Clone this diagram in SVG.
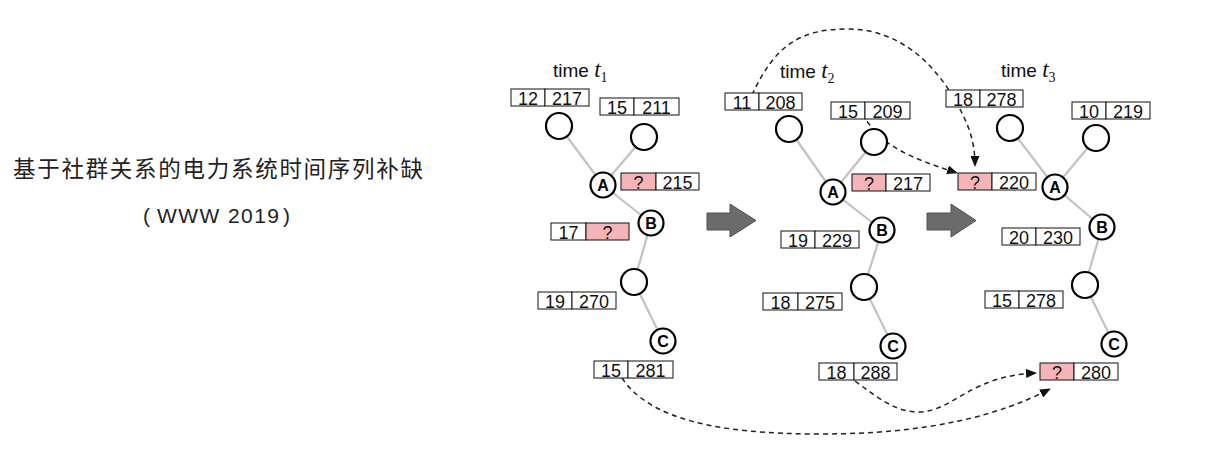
<svg xmlns="http://www.w3.org/2000/svg" width="1212" height="454" viewBox="0 0 1212 454">
<style>
.bg{fill:#fff}
.cell{fill:#fff;stroke:#111;stroke-width:1}
.pink{fill:#f5b5b8;stroke:#111;stroke-width:1}
.num{font-family:"Liberation Sans",Arial,sans-serif;font-size:18px;fill:#111;text-anchor:middle}
.circ{fill:#fff;stroke:#000;stroke-width:2.2}
.lbl{font-family:"Liberation Sans",Arial,sans-serif;font-size:16px;font-weight:bold;fill:#000;text-anchor:middle}
.edge{stroke:#c2c2c2;stroke-width:2.2;fill:none}
.dash{stroke:#222;stroke-width:1.5;fill:none;stroke-dasharray:5 4;marker-end:url(#ah)}
.blk{fill:#6b6b6b;stroke:#505050;stroke-width:1}
.time{font-family:"Liberation Sans",Arial,sans-serif;font-size:19px;fill:#111}
.tit{font-family:"Liberation Serif","Times New Roman",serif;font-style:italic;font-size:23px}
.sub{font-family:"Liberation Serif","Times New Roman",serif;font-size:14px}
.title{font-family:"Noto Sans CJK SC","Noto Sans",sans-serif;font-size:22.5px;fill:#222;text-anchor:middle}
.title2{font-family:"Liberation Sans",Arial,sans-serif;font-size:21px;fill:#222}
</style>
<defs>
<marker id="ah" markerUnits="userSpaceOnUse" markerWidth="11" markerHeight="9" refX="10" refY="4.5" orient="auto">
<path d="M0,0 L11,4.5 L0,9 z" fill="#111"/>
</marker>
</defs>
<rect class="bg" x="0" y="0" width="1212" height="454"/>

<g id="title">
<text class="title" x="218" y="177" textLength="410" lengthAdjust="spacing">基于社群关系的电力系统时间序列补缺</text>
<text class="title2" x="143" y="223">(<tspan x="157" textLength="122" lengthAdjust="spacing">WWW 2019</tspan><tspan x="283">)</tspan></text>
</g>

<g id="time-labels">
<text class="time" x="553" y="77">time <tspan class="tit">t</tspan><tspan class="sub" dy="5">1</tspan></text>
<text class="time" x="780" y="78">time <tspan class="tit">t</tspan><tspan class="sub" dy="5">2</tspan></text>
<text class="time" x="1001" y="77">time <tspan class="tit">t</tspan><tspan class="sub" dy="5">3</tspan></text>
</g>

<g id="connectors">
<!-- panel 1 edges -->
<line class="edge" x1="559" y1="126" x2="603" y2="185"/>
<line class="edge" x1="644" y1="137" x2="603" y2="185"/>
<line class="edge" x1="603" y1="185" x2="651" y2="223"/>
<line class="edge" x1="651" y1="223" x2="634" y2="282"/>
<line class="edge" x1="634" y1="282" x2="663" y2="341"/>
<!-- panel 2 edges -->
<line class="edge" x1="789" y1="129" x2="833" y2="192"/>
<line class="edge" x1="874" y1="142" x2="833" y2="192"/>
<line class="edge" x1="833" y1="192" x2="882" y2="230"/>
<line class="edge" x1="882" y1="230" x2="864" y2="287"/>
<line class="edge" x1="864" y1="287" x2="893" y2="346"/>
<!-- panel 3 edges -->
<line class="edge" x1="1010" y1="128" x2="1055" y2="187"/>
<line class="edge" x1="1096" y1="138" x2="1055" y2="187"/>
<line class="edge" x1="1055" y1="187" x2="1102" y2="227"/>
<line class="edge" x1="1102" y1="227" x2="1085" y2="285"/>
<line class="edge" x1="1085" y1="285" x2="1114" y2="344"/>
<!-- dashed arrows -->
<path class="dash" d="M752 95 C775 45 800 29 848 29 C900 29 935 65 955 100 C968 123 975 140 975 166"/>
<path class="dash" d="M862 114 C868 124 876 132 884 140 C905 156 930 164 957 173"/>
<path class="dash" d="M622 378 C650 420 720 434 820 434 C930 434 1000 415 1050 389"/>
<path class="dash" d="M855 381 C878 398 897 413 920 412 C955 410 970 376 1036 373"/>
<!-- block arrows -->
<path class="blk" d="M707 213 L730 213 L730 204 L756 220.5 L730 237 L730 230 L707 230 z"/>
<path class="blk" d="M927 213 L951 213 L951 204 L976 220.5 L951 237 L951 230 L927 230 z"/>
</g>

<!-- ===== panel 1 nodes ===== -->
<g id="p1-n1"><circle class="circ" cx="559" cy="126" r="13"/></g>
<g id="p1-n2"><circle class="circ" cx="644" cy="137" r="13"/></g>
<g id="p1-A"><circle class="circ" cx="603" cy="185" r="12.5"/><text class="lbl" x="603" y="190.8">A</text></g>
<g id="p1-B"><circle class="circ" cx="651" cy="223" r="12.5"/><text class="lbl" x="651" y="228.8">B</text></g>
<g id="p1-n3"><circle class="circ" cx="634" cy="282" r="13"/></g>
<g id="p1-C"><circle class="circ" cx="663" cy="341" r="12.5"/><text class="lbl" x="663" y="346.8">C</text></g>

<g id="p1-b1"><rect class="cell" x="511" y="89" width="34" height="17"/><rect class="cell" x="545" y="89" width="44" height="17"/><text class="num" x="528" y="104.5">12</text><text class="num" x="567" y="104.5">217</text></g>
<g id="p1-b2"><rect class="cell" x="600" y="98" width="34" height="17"/><rect class="cell" x="634" y="98" width="45" height="17"/><text class="num" x="617" y="113.5">15</text><text class="num" x="656.5" y="113.5">211</text></g>
<g id="p1-b3"><rect class="pink" x="621" y="173" width="35" height="17"/><rect class="cell" x="656" y="173" width="43" height="17"/><text class="num" x="638.5" y="188.5">?</text><text class="num" x="677.5" y="188.5">215</text></g>
<g id="p1-b4"><rect class="cell" x="551" y="223" width="35" height="17"/><rect class="pink" x="586" y="223" width="43" height="17"/><text class="num" x="568.5" y="238.5">17</text><text class="num" x="607.5" y="238.5">?</text></g>
<g id="p1-b5"><rect class="cell" x="538" y="292" width="34" height="17"/><rect class="cell" x="572" y="292" width="44" height="17"/><text class="num" x="555" y="307.5">19</text><text class="num" x="594" y="307.5">270</text></g>
<g id="p1-b6"><rect class="cell" x="594" y="361" width="34" height="17"/><rect class="cell" x="628" y="361" width="45" height="17"/><text class="num" x="611" y="376.5">15</text><text class="num" x="650.5" y="376.5">281</text></g>

<!-- ===== panel 2 nodes ===== -->
<g id="p2-n1"><circle class="circ" cx="789" cy="129" r="13"/></g>
<g id="p2-n2"><circle class="circ" cx="874" cy="142" r="13"/></g>
<g id="p2-A"><circle class="circ" cx="833" cy="192" r="12.5"/><text class="lbl" x="833" y="197.8">A</text></g>
<g id="p2-B"><circle class="circ" cx="882" cy="230" r="12.5"/><text class="lbl" x="882" y="235.8">B</text></g>
<g id="p2-n3"><circle class="circ" cx="864" cy="287" r="13"/></g>
<g id="p2-C"><circle class="circ" cx="893" cy="346" r="12.5"/><text class="lbl" x="893" y="351.8">C</text></g>

<g id="p2-b1"><rect class="cell" x="725" y="93" width="34" height="17"/><rect class="cell" x="759" y="93" width="43" height="17"/><text class="num" x="742" y="108.5">11</text><text class="num" x="780.5" y="108.5">208</text></g>
<g id="p2-b2"><rect class="cell" x="831" y="102" width="34" height="17"/><rect class="cell" x="865" y="102" width="45" height="17"/><text class="num" x="848" y="117.5">15</text><text class="num" x="887.5" y="117.5">209</text></g>
<g id="p2-b3"><rect class="pink" x="852" y="174" width="34" height="17"/><rect class="cell" x="886" y="174" width="44" height="17"/><text class="num" x="869" y="189.5">?</text><text class="num" x="908" y="189.5">217</text></g>
<g id="p2-b4"><rect class="cell" x="781" y="231" width="34" height="17"/><rect class="cell" x="815" y="231" width="44" height="17"/><text class="num" x="798" y="246.5">19</text><text class="num" x="837" y="246.5">229</text></g>
<g id="p2-b5"><rect class="cell" x="763" y="293" width="35" height="17"/><rect class="cell" x="798" y="293" width="44" height="17"/><text class="num" x="780.5" y="308.5">18</text><text class="num" x="820" y="308.5">275</text></g>
<g id="p2-b6"><rect class="cell" x="819" y="363" width="35" height="17"/><rect class="cell" x="854" y="363" width="43" height="17"/><text class="num" x="836.5" y="378.5">18</text><text class="num" x="875.5" y="378.5">288</text></g>

<!-- ===== panel 3 nodes ===== -->
<g id="p3-n1"><circle class="circ" cx="1010" cy="128" r="13"/></g>
<g id="p3-n2"><circle class="circ" cx="1096" cy="138" r="13"/></g>
<g id="p3-A"><circle class="circ" cx="1055" cy="187" r="12.5"/><text class="lbl" x="1055" y="192.8">A</text></g>
<g id="p3-B"><circle class="circ" cx="1102" cy="227" r="12.5"/><text class="lbl" x="1102" y="232.8">B</text></g>
<g id="p3-n3"><circle class="circ" cx="1085" cy="285" r="13"/></g>
<g id="p3-C"><circle class="circ" cx="1114" cy="344" r="12.5"/><text class="lbl" x="1114" y="349.8">C</text></g>

<g id="p3-b1"><rect class="cell" x="946" y="90" width="34" height="17"/><rect class="cell" x="980" y="90" width="43" height="17"/><text class="num" x="963" y="105.5">18</text><text class="num" x="1001.5" y="105.5">278</text></g>
<g id="p3-b2"><rect class="cell" x="1072" y="102" width="34" height="17"/><rect class="cell" x="1106" y="102" width="44" height="17"/><text class="num" x="1089" y="117.5">10</text><text class="num" x="1128" y="117.5">219</text></g>
<g id="p3-b3"><rect class="pink" x="958" y="173" width="34" height="17"/><rect class="cell" x="992" y="173" width="44" height="17"/><text class="num" x="975" y="188.5">?</text><text class="num" x="1014" y="188.5">220</text></g>
<g id="p3-b4"><rect class="cell" x="1002" y="228" width="34" height="17"/><rect class="cell" x="1036" y="228" width="44" height="17"/><text class="num" x="1019" y="243.5">20</text><text class="num" x="1058" y="243.5">230</text></g>
<g id="p3-b5"><rect class="cell" x="985" y="291" width="34" height="17"/><rect class="cell" x="1019" y="291" width="44" height="17"/><text class="num" x="1002" y="306.5">15</text><text class="num" x="1041" y="306.5">278</text></g>
<g id="p3-b6"><rect class="pink" x="1040" y="363" width="34" height="17"/><rect class="cell" x="1074" y="363" width="44" height="17"/><text class="num" x="1057" y="378.5">?</text><text class="num" x="1096" y="378.5">280</text></g>
</svg>
